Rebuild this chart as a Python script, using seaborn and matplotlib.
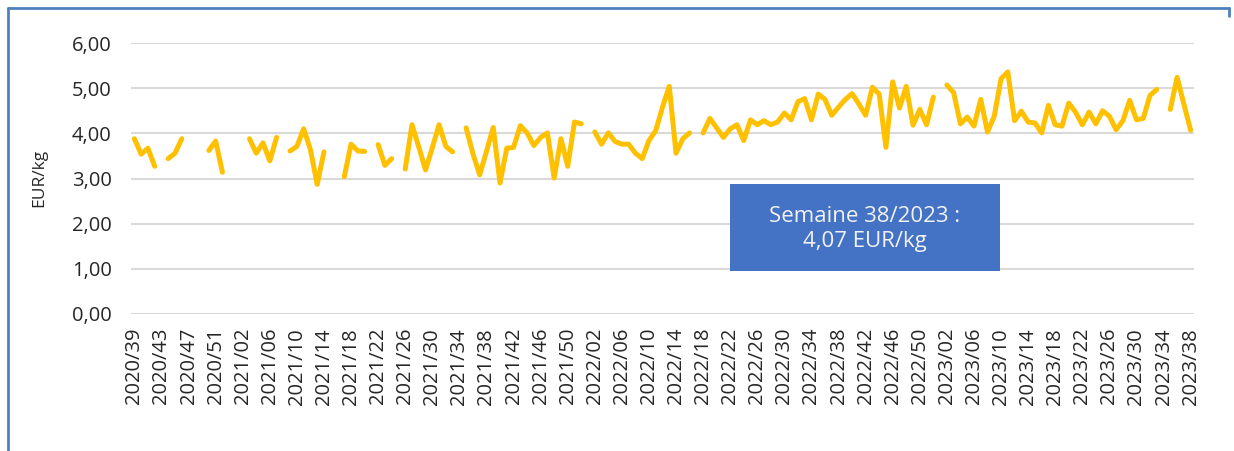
import matplotlib
matplotlib.use("Agg")
import matplotlib.pyplot as plt
from matplotlib.patches import Rectangle
from matplotlib.lines import Line2D
import numpy as np
import pandas as pd
import seaborn as sns

# Weekly categories: 2020/39 .. 2023/38 (ISO weeks; 2020 has 53 weeks)
weeks = []
for year, first, last in [(2020, 39, 53), (2021, 1, 52), (2022, 1, 52), (2023, 1, 38)]:
    for w in range(first, last + 1):
        weeks.append(f"{year}/{w:02d}")

# Weekly price in EUR/kg (None = no quotation that week)
prices = [
    3.88, 3.54, 3.67, 3.27, None, 3.44, 3.56, 3.88, None, None,
    None, 3.62, 3.83, 3.14, None, None, None, 3.88, 3.56, 3.79,
    3.39, 3.91, None, 3.61, 3.71, 4.10, 3.64, 2.87, 3.59, None,
    None, 3.04, 3.76, 3.61, 3.60, None, 3.75, 3.29, 3.44, None,
    3.21, 4.19, 3.70, 3.19, 3.68, 4.19, 3.71, 3.59, None, 4.12,
    3.55, 3.08, 3.60, 4.13, 2.90, 3.67, 3.69, 4.17, 4.01, 3.73,
    3.91, 4.01, 3.01, 3.88, 3.27, 4.25, 4.21, None, 4.03, 3.76,
    4.01, 3.82, 3.76, 3.76, 3.56, 3.44, 3.84, 4.06, 4.58, 5.04,
    3.56, 3.88, 4.01, None, 4.01, 4.33, 4.12, 3.91, 4.10, 4.19,
    3.84, 4.30, 4.19, 4.28, 4.19, 4.25, 4.45, 4.30, 4.70, 4.77,
    4.30, 4.87, 4.75, 4.40, 4.58, 4.75, 4.88, 4.65, 4.40, 5.02,
    4.87, 3.69, 5.14, 4.56, 5.04, 4.18, 4.53, 4.19, 4.80, None,
    5.07, 4.90, 4.21, 4.36, 4.16, 4.75, 4.03, 4.38, 5.21, 5.36,
    4.28, 4.49, 4.25, 4.23, 4.01, 4.62, 4.19, 4.16, 4.67, 4.47,
    4.19, 4.47, 4.21, 4.50, 4.38, 4.08, 4.28, 4.73, 4.30, 4.33,
    4.84, 4.97, None, 4.53, 5.24, 4.65, 4.07,
]

y_ticks = [0, 1, 2, 3, 4, 5, 6]
y_label = "EUR/kg"
last_year, last_wk = weeks[-1].split("/")
last_price = prices[-1]

# Build a long table; consecutive weeks with data share a segment id so gaps stay open
df = pd.DataFrame({"week": weeks, "price": prices})
df["pos"] = np.arange(len(df))
df["price"] = pd.to_numeric(df["price"])
df["seg"] = df["price"].isna().cumsum()
df = df.dropna(subset=["price"])

sns.set_theme(style="white")
plt.rcParams["font.family"] = ["Open Sans", "DejaVu Sans"]
text_color = "#262626"
tick_size = 14.5

fig = plt.figure(figsize=(12.34, 4.51), dpi=100)
W, H = 1234, 451
ax = fig.add_axes([131 / W, 1 - 314 / H, (1194 - 131) / W, (314 - 43) / H])

sns.lineplot(data=df, x="pos", y="price", units="seg", estimator=None,
             color="#FFC000", linewidth=3.6, ax=ax, legend=False,
             solid_capstyle="round", solid_joinstyle="round")

ax.set_xlim(-0.5, len(weeks) - 0.5)
ax.set_ylim(0, 6)
ax.set_yticks(y_ticks)
ax.set_yticklabels([f"{v:.2f}".replace(".", ",") for v in y_ticks],
                   fontsize=tick_size, color=text_color)
tick_pos = list(range(0, len(weeks), 4))
ax.set_xticks(tick_pos)
ax.set_xticklabels([weeks[i] for i in tick_pos], rotation=90,
                   fontsize=tick_size, color=text_color)
ax.tick_params(axis="both", length=0)
ax.tick_params(axis="x", pad=10)
ax.tick_params(axis="y", pad=14)
ax.grid(axis="y", color="#D9D9D9", linewidth=1.5)
ax.set_axisbelow(True)
for s in ax.spines.values():
    s.set_visible(False)
ax.set_xlabel("")
ax.set_ylabel(y_label, fontsize=12.5, color=text_color)
ax.yaxis.set_label_coords(47 / W, 1 - 178 / H, transform=fig.transFigure)

# Callout with the latest weekly value
box = Rectangle((730 / W, 1 - 271 / H), 270 / W, 87 / H,
                transform=fig.transFigure, facecolor="#4472C4",
                edgecolor="none", zorder=5)
fig.add_artist(box)
value_txt = f"{last_price:.2f}".replace(".", ",")
fig.text(865 / W, 1 - 229 / H,
         f"Semaine {last_wk}/{last_year} :\n{value_txt} EUR/kg",
         ha="center", va="center", color="#F2F2F2", fontsize=16,
         linespacing=1.25, zorder=6)

# Frame around the chart area
frame_color = "#4F81BD"
fig.add_artist(Line2D([8 / W, 8 / W], [0, 1 - 8 / H], transform=fig.transFigure,
                      color=frame_color, linewidth=2))
fig.add_artist(Line2D([8 / W, 1229 / W], [1 - 8 / H, 1 - 8 / H],
                      transform=fig.transFigure, color=frame_color, linewidth=2))
fig.add_artist(Line2D([1229 / W, 1229 / W], [1 - 8 / H, 1 - 16 / H],
                      transform=fig.transFigure, color=frame_color, linewidth=2))

fig.savefig("out.png", dpi=100)
